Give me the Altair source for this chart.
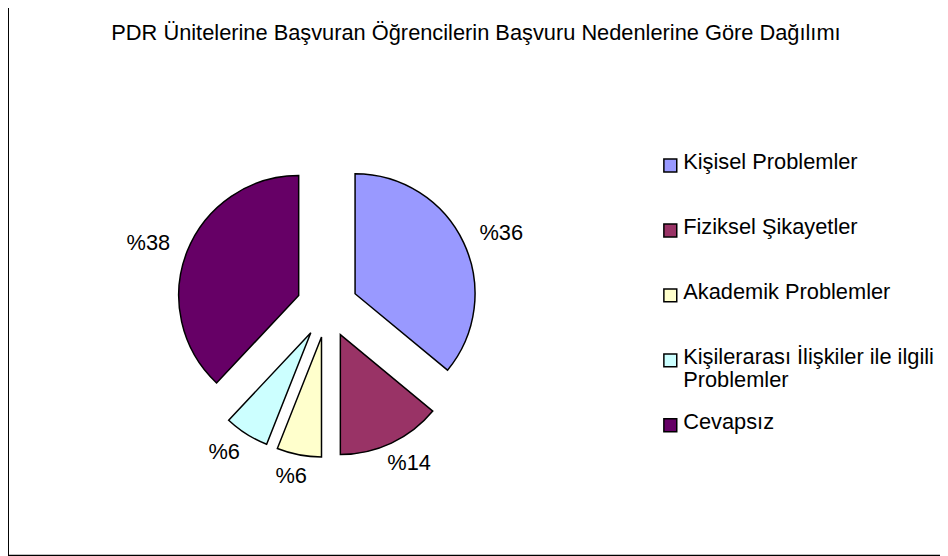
import altair as alt
import pandas as pd

categories = ["Kişisel Problemler", "Fiziksel Şikayetler", "Akademik Problemler",
              "Kişilerarası İlişkiler ile ilgili Problemler", "Cevapsız"]
legend_labels = ["Kişisel Problemler", "Fiziksel Şikayetler", "Akademik Problemler",
                 "Kişilerarası İlişkiler ile ilgili\nProblemler", "Cevapsız"]
values = [36, 14, 6, 6, 38]
colors = ["#9999FF", "#993366", "#FFFFCC", "#CCFFFF", "#660066"]
title_text = "PDR Ünitelerine Başvuran Öğrencilerin Başvuru Nedenlerine Göre Dağılımı"

FONT = "Liberation Sans"
FS = 22
CX, CY = 322, 299      # pie centre (svg px)
R = 121                # pie radius
EXPLODE = 31           # explode distance
LABEL_RX, LABEL_RY = 194, 174   # label distances

df = pd.DataFrame({"cat": categories, "leg": legend_labels, "value": values,
                   "idx": list(range(len(values)))})

base = (
    alt.Chart(df)
    .transform_window(cum="sum(value)", sort=[alt.SortField("idx")], frame=[None, 0])
    .transform_joinaggregate(total="sum(value)")
    .transform_calculate(t1="2*PI*datum.cum/datum.total")
    .transform_calculate(t0="2*PI*(datum.cum-datum.value)/datum.total")
    .transform_calculate(mid="(datum.t0+datum.t1)/2")
    .transform_calculate(cx=f"{CX}+{EXPLODE}*sin(datum.mid)")
    .transform_calculate(cy=f"{CY}-{EXPLODE}*cos(datum.mid)")
    .transform_calculate(lx=f"{CX}+{LABEL_RX}*sin(datum.mid)")
    .transform_calculate(ly=f"{CY}-{LABEL_RY}*cos(datum.mid)")
    .transform_calculate(label="'%' + datum.value")
    .transform_calculate(legy="156.5 + datum.idx*65.5")
    .transform_calculate(legty="datum.legy + 4")
)

color = alt.Color("cat:N", scale=alt.Scale(domain=categories, range=colors), legend=None)

pie = base.mark_arc(radius=R, stroke="black", strokeWidth=1.5).encode(
    x=alt.X("cx:Q", scale=None, axis=None),
    y=alt.Y("cy:Q", scale=None, axis=None),
    theta=alt.Theta("t0:Q", scale=None),
    theta2="t1:Q",
    color=color,
)

labels = base.mark_text(font=FONT, fontSize=FS, align="center", baseline="middle",
                        color="black").encode(
    x=alt.X("lx:Q", scale=None, axis=None),
    y=alt.Y("ly:Q", scale=None, axis=None),
    text="label:N",
)

leg_sq = base.mark_square(size=169, stroke="black", strokeWidth=1.5, opacity=1).encode(
    x=alt.value(668),
    y=alt.Y("legy:Q", scale=None, axis=None),
    color=color,
)

leg_txt = base.mark_text(font=FONT, fontSize=FS, align="left", baseline="alphabetic",
                         lineBreak="\n", lineHeight=23, color="black").encode(
    x=alt.value(681),
    y=alt.Y("legty:Q", scale=None, axis=None),
    text="leg:N",
)

one = pd.DataFrame({"t": [title_text]})
title = alt.Chart(one).mark_text(font=FONT, fontSize=FS, align="center",
                                 baseline="alphabetic", color="black").encode(
    x=alt.value(472), y=alt.value(29.5), text="t:N"
)

frame_left = alt.Chart(one).mark_rule(color="black", strokeWidth=2).encode(
    x=alt.value(0), y=alt.value(-10), y2=alt.value(551)
)
frame_bottom = alt.Chart(one).mark_rule(color="black", strokeWidth=2).encode(
    x=alt.value(-1), x2=alt.value(945), y=alt.value(550)
)

chart = (
    alt.layer(pie, labels, leg_sq, leg_txt, title, frame_left, frame_bottom)
    .properties(width=940, height=552, padding=0, autosize="none", background="white")
    .configure_view(stroke=None)
)

chart.save("out.html", embed_options={"renderer": "svg", "actions": False})
